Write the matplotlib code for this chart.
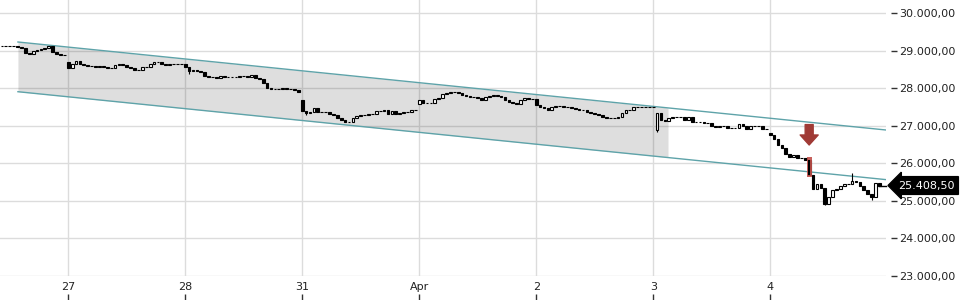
import numpy as np
import matplotlib
matplotlib.use('Agg')
import matplotlib.pyplot as plt
from matplotlib.ticker import FuncFormatter

# closing prices, one bar per step
close = [29122, 29125, 29118, 29120, 29095, 29068, 28935, 28909, 28989, 29015,
         29042, 29068, 29122, 28962, 28909, 28882, 28875, 28536, 28643, 28722,
         28643, 28616, 28589, 28595, 28563, 28589, 28563, 28536, 28530, 28616,
         28643, 28616, 28563, 28536, 28483, 28478, 28563, 28560, 28643, 28696,
         28690, 28643, 28616, 28643, 28640, 28645, 28643, 28563, 28456, 28483,
         28456, 28430, 28323, 28297, 28300, 28270, 28323, 28297, 28300, 28297,
         28295, 28323, 28320, 28297, 28350, 28270, 28243, 28137, 28004, 27977,
         27980, 27975, 28004, 27977, 27980, 27950, 27897, 27392, 27338, 27365,
         27471, 27365, 27368, 27362, 27312, 27285, 27205, 27152, 27099, 27095,
         27205, 27258, 27285, 27288, 27312, 27310, 27392, 27390, 27418, 27312,
         27392, 27312, 27338, 27365, 27362, 27418, 27415, 27684, 27604, 27600,
         27604, 27711, 27738, 27844, 27871, 27897, 27893, 27871, 27817, 27791,
         27764, 27768, 27738, 27684, 27764, 27791, 27817, 27791, 27764, 27684,
         27631, 27604, 27578, 27684, 27738, 27711, 27715, 27551, 27498, 27471,
         27418, 27498, 27525, 27520, 27498, 27495, 27471, 27445, 27418, 27415,
         27365, 27338, 27312, 27285, 27232, 27205, 27208, 27202, 27232, 27338,
         27418, 27415, 27498, 27495, 27500, 27498, 27495, 27498, 27338, 27152,
         27125, 27205, 27232, 27235, 27230, 27152, 27232, 27099, 27095, 27099,
         27072, 27070, 26992, 26966, 26992, 26990, 26939, 26942, 26939, 27045,
         26992, 26912, 26992, 26990, 26995, 26912, 26910, 26753, 26646, 26487,
         26407, 26247, 26167, 26220, 26141, 26138, 26087, 25688, 25315, 25448,
         25342, 24916, 25102, 25289, 25315, 25395, 25448, 25445, 25528, 25502,
         25395, 25289, 25182, 25102, 25475, 25408.5]
# bars that open with a gap (bar index: open)
gap_open = {0: 29120, 17: 28696, 77: 27684, 107: 27578, 168: 26886, 197: 26806}
# wicks beyond the body
wick_low = {48: 28376, 78: 27285, 168: 26833, 211: 24890, 223: 25023, 12: 29110}
wick_high = {218: 25741, 13: 29125}

day_pos = [17, 47, 77, 107, 137, 167, 197]
day_labels = ['27', '28', '31', 'Apr', '2', '3', '4']
y_ticks = [23000, 24000, 25000, 26000, 27000, 28000, 29000, 30000]

# trend channel anchors (bar, price)
chan_x = [4.1, 226.7]
chan_upper = [29228, 26886]
chan_lower = [27905, 25565]
fill_end = 170.8
signal_bar = 207

close = np.array(close, dtype=float)
n = len(close)
x = np.arange(n)
opn = np.r_[close[0], close[:-1]]
for k, v in gap_open.items():
    opn[k] = v
low = np.minimum(opn, close)
high = np.maximum(opn, close)
for k, v in wick_low.items():
    low[k] = v
for k, v in wick_high.items():
    high[k] = v

fig = plt.figure(figsize=(9.6, 3.0), dpi=100)
ax = fig.add_axes([0, 0.08, 886/960, 0.92])

ax.set_xlim(-0.5, 226.7)
ax.set_ylim(23000, 30346)
ax.set_axisbelow(True)
ax.set_xticks(day_pos)
ax.set_xticklabels(day_labels, fontsize=8, color='#222222')
ax.set_yticks(y_ticks)
ax.grid(True, color='#dcdcdc', lw=1)
ax.tick_params(axis='x', length=0, pad=4)
ax.tick_params(axis='y', left=False, labelleft=False)
for s in ax.spines.values():
    s.set_visible(False)

# channel
ax.plot(chan_x, chan_upper, color='#5ea3a9', lw=1, zorder=2)
ax.plot(chan_x, chan_lower, color='#5ea3a9', lw=1, zorder=2)
fx = np.linspace(chan_x[0], fill_end, 50)
ax.fill_between(fx, np.interp(fx, chan_x, chan_lower), np.interp(fx, chan_x, chan_upper),
                color='black', alpha=0.13, lw=0, zorder=1)

# highlighted signal candle
ax.bar(signal_bar, high[signal_bar] - low[signal_bar] + 140, bottom=low[signal_bar] - 50,
       width=1.2, color='#c0504a', alpha=0.9, zorder=4.5)

# candles
up = close >= opn
body = np.maximum(np.abs(close - opn), 8)
ax.vlines(x, low, high, color='black', lw=0.8, zorder=3)
ax.bar(x[up], body[up], bottom=np.minimum(opn, close)[up], width=0.7,
       facecolor='white', edgecolor='black', lw=0.8, zorder=4)
ax.bar(x[~up], body[~up], bottom=np.minimum(opn, close)[~up], width=0.7,
       facecolor='black', edgecolor='black', lw=0.8, zorder=4)
# redraw the signal body on top of its highlight
ax.bar(signal_bar, body[signal_bar], bottom=min(opn[signal_bar], close[signal_bar]),
       width=0.45, color='black', lw=0, zorder=4.6)

# signal arrow
ax.annotate('', xy=(signal_bar, 26487), xytext=(signal_bar, 27030),
            arrowprops=dict(arrowstyle='simple,head_width=1.8,head_length=1.0,tail_width=0.8',
                            color='#a03a35', shrinkA=0, shrinkB=0, mutation_scale=7.2),
            zorder=5)

# last price line and label
ax.plot([x[-1], 226.7], [close[-1], close[-1]], color='black', lw=1, clip_on=False, zorder=4)


def de_fmt(v, pos=None):
    s = f"{v:,.2f}"
    return s.replace(',', 'X').replace('.', ',').replace('X', '.')


ax.text(1.0 + 12/886, close[-1], de_fmt(close[-1]), transform=ax.get_yaxis_transform(),
        ha='left', va='center', fontsize=8, color='white', clip_on=False,
        bbox=dict(boxstyle='larrow,pad=0.35', fc='black', ec='black'), zorder=6)

# right price axis, offset from the plot edge
sy = ax.secondary_yaxis(1.0 + 5/886)
sy.set_yticks(y_ticks)
sy.yaxis.set_major_formatter(FuncFormatter(de_fmt))
sy.tick_params(direction='out', length=4, width=1, color='#333333', pad=2,
               labelsize=8, labelcolor='#222222')
for s in sy.spines.values():
    s.set_visible(False)

# small tick marks under the day labels
sx = ax.secondary_xaxis(-24/276)
sx.set_xticks(day_pos)
sx.tick_params(direction='in', length=4, width=1, color='#333333', labelbottom=False)
for s in sx.spines.values():
    s.set_visible(False)

fig.savefig('out.png', dpi=100)
